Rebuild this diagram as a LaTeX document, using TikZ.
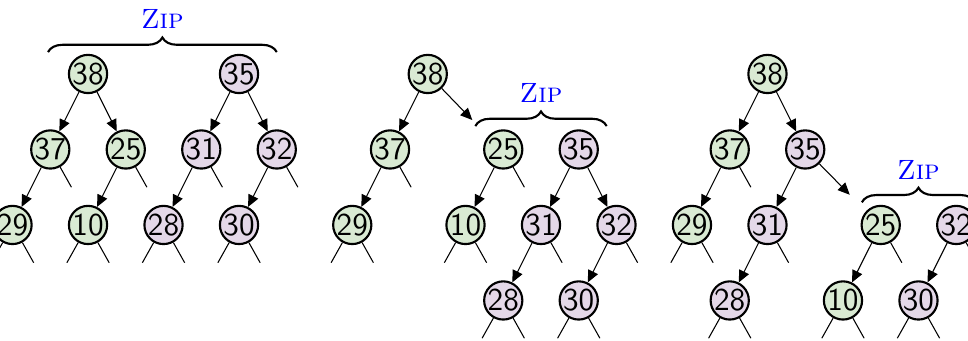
\documentclass[tikz,border=0pt]{standalone}
\usepackage{tikz}
\usetikzlibrary{arrows.meta}
\usetikzlibrary{positioning, decorations.pathreplacing}

\definecolor{keygreen}{RGB}{217,234,211}
\definecolor{keypurple}{RGB}{228,216,232}

\tikzset{
	key/.style={circle, draw, thick, inner sep=0pt, minimum size=5mm, font=\sffamily\large},
	gkey/.style={key, fill=keygreen},
	pkey/.style={key, fill=keypurple},
	ptr/.style={-{Triangle[length=4.5pt,width=4pt]}},
	zipbrace/.style={thick, decorate, decoration={brace, amplitude=5.5pt}},
	ziplabel/.style={midway, above=5pt, text=blue, font=\fontsize{10.5}{12}\selectfont}
}

\begin{document}
\begin{tikzpicture}[node distance=1cm and 0.5cm, on grid]
					\useasboundingbox (-1.166,0.980) rectangle (11.656,-3.536);
					\clip (-1.166,0.980) rectangle (11.656,-3.536);

					\node[gkey] (a38) at (0,0) {38};
					\node[pkey, right=2cm of a38] (a35) {35};
					\node[gkey, below left=of a38] (a37) {37};
					\node[gkey, below right=of a38] (a25) {25};
					\node[pkey, below left=of a35] (a31) {31};
					\node[pkey, below right=of a35] (a32) {32};
					\node[gkey, below left=of a37] (a29) {29};
					\node[gkey, below left=of a25] (a10) {10};
					\node[pkey, below left=of a31] (a28) {28};
					\node[pkey, below left=of a32] (a30) {30};
					\coordinate (azl) at (-0.53,0.29);
					\coordinate (azr) at (2.5,0.29);

					\draw[ptr] (a38) -- (a37);
					\draw[ptr] (a38) -- (a25);
					\draw[ptr] (a35) -- (a31);
					\draw[ptr] (a35) -- (a32);
					\draw[ptr] (a37) -- (a29);
					\draw[ptr] (a25) -- (a10);
					\draw[ptr] (a31) -- (a28);
					\draw[ptr] (a32) -- (a30);
					\draw (a37) -- +(0.28,-0.5);
					\draw (a25) -- +(0.28,-0.5);
					\draw (a31) -- +(0.28,-0.5);
					\draw (a32) -- +(0.28,-0.5);
					\draw (a29) -- +(-0.28,-0.5) (a29) -- +(0.28,-0.5);
					\draw (a10) -- +(-0.28,-0.5) (a10) -- +(0.28,-0.5);
					\draw (a28) -- +(-0.28,-0.5) (a28) -- +(0.28,-0.5);
					\draw (a30) -- +(-0.28,-0.5) (a30) -- +(0.28,-0.5);
					\draw[zipbrace] (azl) -- (azr) node[ziplabel] {\textsc{Zip}};

					\node[gkey] (b38) at (4.5,0) {38};
					\node[gkey, below left=of b38] (b37) {37};
					\node[gkey, below left=of b37] (b29) {29};
					\coordinate (bz) at (5.09,-0.61);
					\node[gkey] (b25) at (5.5,-1) {25};
					\node[pkey, right=1cm of b25] (b35) {35};
					\node[gkey, below left=of b25] (b10) {10};
					\node[pkey, below left=of b35] (b31) {31};
					\node[pkey, below right=of b35] (b32) {32};
					\node[pkey, below left=of b31] (b28) {28};
					\node[pkey, below left=of b32] (b30) {30};
					\coordinate (bzl) at (5.13,-0.69);
					\coordinate (bzr) at (6.87,-0.69);

					\draw[ptr] (b38) -- (b37);
					\draw[ptr] (b37) -- (b29);
					\draw[ptr] (b38) -- (bz);
					\draw[ptr] (b25) -- (b10);
					\draw[ptr] (b35) -- (b31);
					\draw[ptr] (b35) -- (b32);
					\draw[ptr] (b31) -- (b28);
					\draw[ptr] (b32) -- (b30);
					\draw (b37) -- +(0.28,-0.5);
					\draw (b25) -- +(0.28,-0.5);
					\draw (b31) -- +(0.28,-0.5);
					\draw (b32) -- +(0.28,-0.5);
					\draw (b29) -- +(-0.28,-0.5) (b29) -- +(0.28,-0.5);
					\draw (b10) -- +(-0.28,-0.5) (b10) -- +(0.28,-0.5);
					\draw (b28) -- +(-0.28,-0.5) (b28) -- +(0.28,-0.5);
					\draw (b30) -- +(-0.28,-0.5) (b30) -- +(0.28,-0.5);
					\draw[zipbrace] (bzl) -- (bzr) node[ziplabel] {\textsc{Zip}};

					\node[gkey] (c38) at (9,0) {38};
					\node[gkey, below left=of c38] (c37) {37};
					\node[pkey, below right=of c38] (c35) {35};
					\node[gkey, below left=of c37] (c29) {29};
					\node[pkey, below left=of c35] (c31) {31};
					\node[pkey, below left=of c31] (c28) {28};
					\coordinate (cz) at (10.09,-1.6);
					\node[gkey] (c25) at (10.5,-2) {25};
					\node[pkey, right=1cm of c25] (c32) {32};
					\node[gkey, below left=of c25] (c10) {10};
					\node[pkey, below left=of c32] (c30) {30};
					\coordinate (czl) at (10.25,-1.7);
					\coordinate (czr) at (11.75,-1.7);

					\draw[ptr] (c38) -- (c37);
					\draw[ptr] (c38) -- (c35);
					\draw[ptr] (c37) -- (c29);
					\draw[ptr] (c35) -- (c31);
					\draw[ptr] (c31) -- (c28);
					\draw[ptr] (c35) -- (cz);
					\draw[ptr] (c25) -- (c10);
					\draw[ptr] (c32) -- (c30);
					\draw (c37) -- +(0.28,-0.5);
					\draw (c31) -- +(0.28,-0.5);
					\draw (c25) -- +(0.28,-0.5);
					\draw (c32) -- +(0.28,-0.5);
					\draw (c29) -- +(-0.28,-0.5) (c29) -- +(0.28,-0.5);
					\draw (c28) -- +(-0.28,-0.5) (c28) -- +(0.28,-0.5);
					\draw (c10) -- +(-0.28,-0.5) (c10) -- +(0.28,-0.5);
					\draw (c30) -- +(-0.28,-0.5) (c30) -- +(0.28,-0.5);
					\draw[zipbrace] (czl) -- (czr) node[ziplabel] {\textsc{Zip}};
\end{tikzpicture}
\end{document}
